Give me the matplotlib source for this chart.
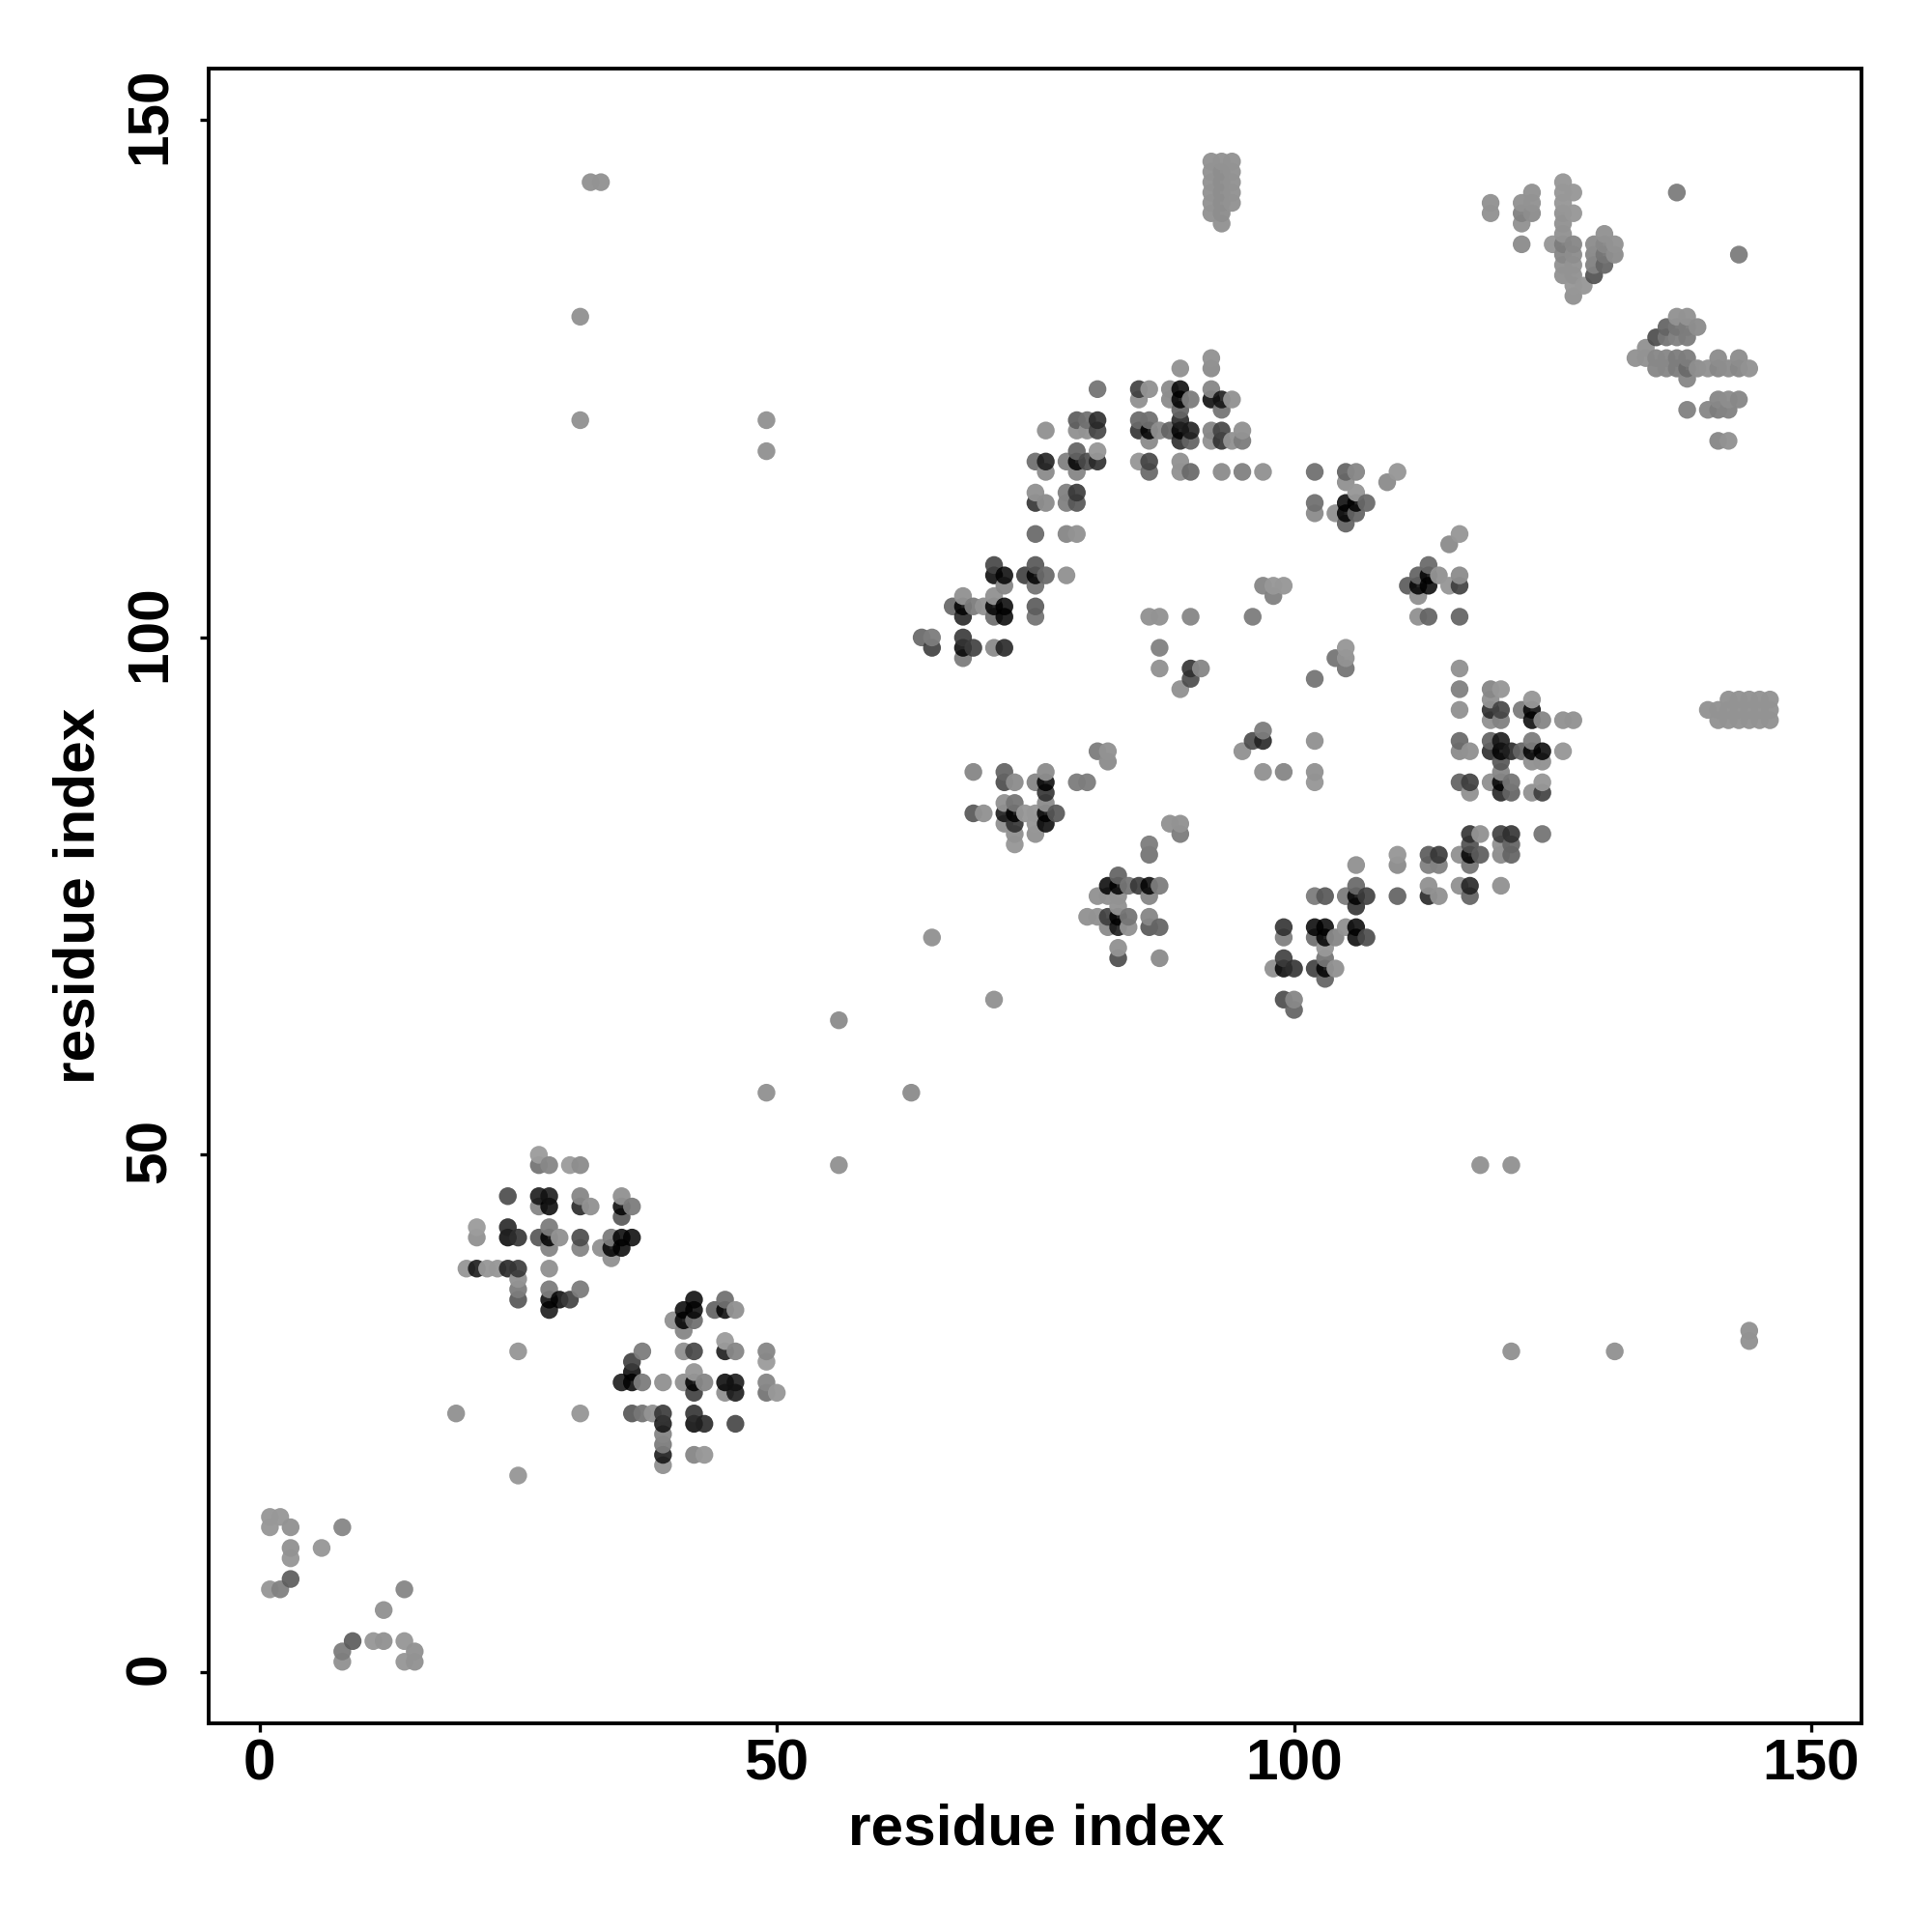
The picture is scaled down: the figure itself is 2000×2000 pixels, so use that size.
import matplotlib
matplotlib.use('Agg')
import matplotlib.pyplot as plt
from matplotlib.transforms import ScaledTranslation

# (residue i, residue j, grey seen on white)
low_left = [(1,15,155),(2,15,155),(1,14,155),(3,14,150),(8,14,140),(3,12,150),(6,12,155),(3,11,155),
            (3,9,105),(1,8,155),(2,8,135),(14,8,140),(12,6,150),(9,3,105),(11,3,155),(12,3,150),(14,3,155),
            (8,2,130),(15,2,150),(8,1,150),(14,1,155),(15,1,150)]

cluster_a = [(27,50,160),(27,49,125),(28,49,140),(30,49,160),(31,49,145),
             (24,46,90),(27,46,50),(28,46,50),(31,46,140),(35,46,150),
             (27,45,140),(28,45,20),(31,45,60),(32,45,150),(35,45,20),(36,45,130),(35,44,100),
             (21,43,160),(24,43,60),(28,43,130),
             (21,42,150),(24,42,25),(25,42,70),(27,42,100),(28,42,20),(29,42,150),(31,42,90),(34,42,130),(35,42,25),(36,42,40),
             (28,41,140),(31,41,140),(33,41,150),(34,41,20),(35,41,20),(34,40,150),
             (20,39,155),(21,39,50),(22,39,155),(23,39,155),(24,39,60),(25,39,75),(28,39,150),
             (25,38,150),(25,37,130),(28,37,130),(31,37,130),
             (25,36,100),(28,36,15),(29,36,40),(30,36,80),(28,35,50)]

cluster_b = [(42,36,40),(45,36,120),(41,35,25),(42,35,35),(44,35,110),(45,35,25),(46,35,150),
             (40,34,150),(41,34,20),(42,34,120),(41,33,140),(45,32,160),
             (37,31,130),(41,31,150),(42,31,85),(45,31,50),(46,31,140),(49,31,140),
             (36,30,80),(49,30,160),(36,29,30),(42,29,155),
             (35,28,50),(36,28,10),(37,28,130),(39,28,150),(41,28,150),(42,28,10),(43,28,140),(45,28,20),(46,28,50),(49,28,140),
             (42,27,80),(45,27,150),(46,27,50),(49,27,125),(50,27,155),
             (36,25,100),(37,25,125),(38,25,150),(39,25,75),(42,25,70),
             (39,24,50),(42,24,20),(43,24,60),(46,24,85),(39,23,140),(39,22,130),
             (39,21,50),(42,21,140),(43,21,155),(39,20,150)]

lone = [(25,31,155),(19,25,150),(31,25,155),(25,19,155),(32,144,150),(33,144,150),(31,131,150),(31,121,150),
        (49,121,150),(49,118,150),(56,63,145),(63,56,145),(49,56,150),(56,49,150),(118,49,150),(121,49,150),
        (121,31,150),(131,31,150),(144,33,150),(144,32,150),(65,71,150),(71,65,150),(137,143,130),(143,137,130)]

upper_mid = [(92,127,150),(92,126,145),(89,126,150),
             (81,124,125),(85,124,80),(86,124,150),(88,124,145),(89,124,30),(92,124,140),
             (85,123,150),(88,123,145),(89,123,10),(90,123,130),(92,123,25),(93,123,50),(94,123,150),
             (89,122,110),(93,122,125),
             (79,121,105),(80,121,120),(81,121,65),(85,121,115),(86,121,120),(89,121,60),
             (76,120,150),(79,120,150),(80,120,150),(81,120,85),(85,120,70),(86,120,15),(87,120,145),(88,120,110),(89,120,15),(90,120,55),(92,120,140),(93,120,85),(95,120,150),
             (86,119,145),(89,119,65),(90,119,110),(92,119,150),(93,119,70),(94,119,150),(95,119,130),
             (79,118,110),(81,118,155),
             (75,117,120),(76,117,55),(78,117,135),(79,117,10),(80,117,90),(81,117,65),(85,117,155),(86,117,85),(89,117,150),
             (76,116,145),(79,116,140),(86,116,115),(89,116,150),(90,116,115),(93,116,145),(95,116,135),(97,116,150),
             (75,114,150),(78,114,135),(79,114,75),(75,113,70),(76,113,145),(78,113,135),(79,113,100),
             (75,110,115),(78,110,140),(79,110,150),
             (71,107,85),(75,107,100),(71,106,5),(72,106,40),(74,106,80),(75,106,10),(76,106,115),(78,106,150),
             (72,105,140),(75,105,125),(68,104,150),(71,104,150),
             (67,103,115),(68,103,10),(69,103,130),(70,103,150),(71,103,10),(72,103,10),(75,103,105),
             (68,102,60),(71,102,120),(72,102,30),(75,102,125),
             (64,100,115),(65,100,130),(68,100,75),
             (65,99,80),(68,99,5),(69,99,80),(71,99,145),(72,99,60),(68,98,130)]

inner = [(86,102,150),(87,102,150),(90,102,140),(96,102,130),(97,105,140),(98,105,155),(99,105,155),(98,104,135),
         (87,99,135),(87,97,150),(90,97,70),(91,97,140),(90,96,90),(89,95,150),
         (104,98,125),(105,99,155),(105,98,150),(105,97,125),(102,96,125),
         (102,116,120),(105,116,110),(106,116,140),(110,116,155),(109,115,145),(105,115,150),(106,114,155),
         (102,113,120),(105,113,5),(106,113,20),(107,113,115),(102,112,145),(104,112,150),(105,112,5),(106,112,110),(105,111,110),
         (116,110,155),(115,109,145),(113,107,115),(112,106,110),(113,106,5),(114,106,150),(116,106,145),
         (111,105,105),(112,105,5),(113,105,5),(115,105,155),(116,105,80),(112,104,150),(112,102,150),(113,102,110),(116,102,110)]

cluster_c = [(97,91,130),(96,90,90),(97,90,60),(102,90,150),(81,89,130),(82,89,150),(95,89,150),(82,88,145),
             (69,87,140),(72,87,110),(76,87,145),(97,87,150),(99,87,140),(102,87,150),
             (72,86,90),(73,86,145),(75,86,140),(76,86,5),(79,86,130),(80,86,130),(102,86,155),(76,85,70),
             (72,84,150),(73,84,125),(76,84,145),
             (69,83,100),(70,83,150),(72,83,50),(73,83,10),(74,83,155),(75,83,155),(76,83,15),(77,83,100),
             (72,82,150),(73,82,70),(75,82,155),(76,82,10),(88,82,150),(89,82,150),
             (73,81,150),(75,81,150),(89,81,130),(73,80,155),(86,80,130),(86,79,125),
             (83,77,110),(82,76,15),(83,76,10),(84,76,125),(85,76,75),(86,76,10),(87,76,130),
             (81,75,150),(82,75,150),(83,75,150),(86,75,140),(83,74,150),
             (80,73,150),(81,73,150),(82,73,80),(83,73,15),(84,73,125),(86,73,140),
             (82,72,145),(83,72,50),(84,72,150),(86,72,100),(87,72,110),
             (83,70,150),(83,69,90),(87,69,145)]

cluster_d = [(106,78,150),(106,76,115),(102,75,130),(103,75,100),(105,75,130),(106,75,15),(107,75,80),(106,74,70),
             (99,72,70),(102,72,35),(103,72,10),(105,72,150),(106,72,30),
             (99,71,135),(102,71,120),(103,71,10),(104,71,140),(106,71,10),(107,71,90),
             (103,70,155),(99,69,80),(103,69,125),
             (98,68,150),(99,68,5),(100,68,70),(102,68,80),(103,68,10),(104,68,150),
             (103,67,110),(99,65,90),(100,65,140),(100,64,110)]

cluster_e = [(116,97,150),(116,95,135),(119,95,140),(120,95,155),(119,94,150),(123,94,155),
             (116,93,150),(119,93,65),(120,93,85),(122,93,130),(123,93,40),
             (119,92,150),(120,92,135),(123,92,25),(124,92,140),(126,92,150),(127,92,150),
             (116,90,115),(119,90,110),(120,90,50),(123,90,130),
             (116,89,145),(117,89,150),(119,89,65),(120,89,5),(121,89,60),(122,89,110),(123,89,5),(124,89,30),(126,89,155),
             (120,88,100),(123,88,150),(124,88,150),(120,87,140),
             (116,86,110),(117,86,80),(119,86,150),(120,86,5),(121,86,125),(124,86,155),
             (117,85,150),(120,85,60),(121,85,110),(123,85,150),(124,85,80),
             (117,81,70),(118,81,150),(120,81,80),(121,81,70),(124,81,125),
             (117,80,95),(120,80,150),(121,80,110),
             (110,79,155),(113,79,105),(114,79,75),(116,79,150),(117,79,10),(118,79,105),(120,79,145),(121,79,110),
             (110,78,145),(113,78,135),(114,78,135),(117,78,125),
             (113,76,150),(116,76,150),(117,76,60),(120,76,150),
             (110,75,110),(113,75,60),(114,75,150),(117,75,110)]

# pale blocks at the top and right
col_block = [(92,146,150),(92,145,150),(92,144,150),(92,143,150),(92,142,150),(92,141,150),
             (93,146,150),(93,145,145),(93,144,145),(93,143,145),(93,142,145),(93,141,145),(93,140,150),
             (94,146,150),(94,145,150),(94,144,150),(94,143,150),(94,142,150)]

top_right = [(119,142,150),(119,141,150),(122,142,150),(122,141,135),(122,140,150),(122,138,145),
             (123,143,150),(123,142,150),(123,141,145),
             (125,138,155),(126,144,155),(126,143,155),(126,142,155),(126,141,150),(126,140,150),(126,139,150),
             (126,138,130),(126,137,140),(126,136,150),(126,135,150),
             (127,143,155),(127,141,155),(127,138,140),(127,137,145),(127,136,150),(127,135,150),(127,134,155),(127,133,150),
             (128,134,155),(129,138,145),(129,137,140),(129,136,135),(129,135,95),
             (130,139,150),(130,138,140),(130,137,125),(130,136,110),(131,138,150),(131,137,145)]

right_band = [(137,131,150),(138,131,150),(136,130,110),(137,130,125),(138,130,130),(139,130,145),
              (135,129,90),(136,129,125),(137,129,135),(138,129,130),(134,128,150),
              (133,127,150),(134,127,150),(135,127,140),(136,127,140),(137,127,130),(138,127,130),(141,127,145),(143,127,145),
              (135,126,140),(136,126,140),(137,126,130),(138,126,115),(139,126,145),(140,126,150),(141,126,140),(142,126,145),(143,126,140),(144,126,150),
              (138,125,140),(141,123,140),(142,123,145),(143,123,140),
              (138,122,135),(140,122,140),(141,122,130),(142,122,135),(141,119,140),(142,119,150)]

side_block = [(142,94,150),(143,94,150),(144,94,150),(145,94,150),(146,94,150),
              (140,93,150),(141,93,150),(142,93,150),(143,93,150),(144,93,150),(145,93,150),(146,93,150),
              (141,92,150),(142,92,150),(143,92,150),(144,92,150),(145,92,150),(146,92,150)]

ticks = [0, 50, 100, 150]
xlabel = 'residue index'
ylabel = 'residue index'

contacts = {}
for part in [low_left, cluster_a, cluster_b, lone, upper_mid, inner, cluster_c, cluster_d, cluster_e,
             col_block, top_right, right_band, side_block]:
    for i, j, g in part:
        contacts[(i, j)] = g

# plotted along i then j, later points cover earlier ones
keys = sorted(contacts)
xs = [k[0] for k in keys]
ys = [k[1] for k in keys]
cols = []
for k in keys:
    g = contacts[k]
    # pale dots are close to opaque, dark ones still stack up to black
    a = 0.85 + 0.12 * min(1, max(0, (g - 40) / 100))
    v = max(0, (g - 255 * (1 - a)) / a) / 255
    cols.append((v, v, v, a))

plt.rcParams['font.family'] = ['Liberation Sans', 'DejaVu Sans']
plt.rcParams['font.weight'] = 'bold'

fig = plt.figure(figsize=(20, 20), dpi=100)
ax = fig.add_axes([216 / 2000, 1 - 1784 / 2000, 1711 / 2000, 1713 / 2000])
ax.scatter(xs, ys, s=176, c=cols, linewidths=0, zorder=3)

ax.set_xlim(-4.92, 154.85)
ax.set_ylim(-4.95, 154.98)
ax.set_xticks(ticks)
ax.set_yticks(ticks)
ax.tick_params(length=6.5, width=2.4, labelsize=43.5, pad=5)
ax.tick_params(axis='y', pad=17)
nudge = ScaledTranslation(0, 3 / 72, fig.dpi_scale_trans)
for t in ax.get_yticklabels():
    t.set_rotation(90)
    t.set_va('center')
    t.set_transform(t.get_transform() + nudge)
for s in ax.spines.values():
    s.set_linewidth(2.8)

fig.text(1073 / 2000, 1 - 1894 / 2000, xlabel, fontsize=43.5, fontweight='bold', ha='center', va='center')
fig.text(82 / 2000, 1 - 927 / 2000, ylabel, fontsize=43.5, fontweight='bold', ha='center', va='center', rotation=90)

fig.savefig('out.png', dpi=100)
